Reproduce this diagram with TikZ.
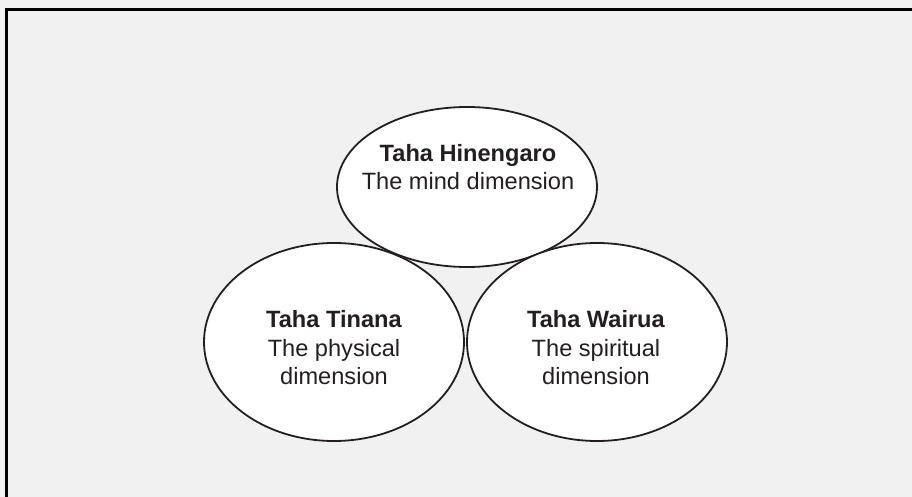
\documentclass[tikz,border=0pt]{standalone}
\usepackage{fontspec}
\setmainfont{Liberation Sans}
\usetikzlibrary{shapes.geometric}
\definecolor{bggray}{RGB}{241,241,241}
\definecolor{inkgray}{RGB}{35,31,32}
\begin{document}
\begin{tikzpicture}[x=0.5pt,y=-0.5pt,line cap=butt,line join=miter,
	dimension/.style={ellipse, draw=inkgray, fill=white, line width=0.9pt, inner sep=0pt, minimum width=130pt},
	dimtext/.style={align=center, text=inkgray, font=\fontsize{11.8}{14.4}\selectfont, anchor=base}]
	
	% page, with the frame on the top and left only
	\fill[bggray] (0,0) rectangle (912,497);
	\useasboundingbox (0,0) rectangle (912,497);
	\draw[line width=1.5pt] (6.5,497) |- (912,9.5);
	
	% the three taha
	\node[dimension, minimum height=80pt] (hinengaro) at (467,187) {};
	\node[dimension, minimum height=99pt] (tinana) at (334,342) {};
	\node[dimension, minimum height=99pt] (wairua) at (597,342) {};
	
	% base = last line
	\node[dimtext] (hinengaroText) at (468,190) {\textbf{Taha Hinengaro}\\The mind dimension};
	\node[dimtext] (tinanaText) at (334,385) {\textbf{Taha Tinana}\\The physical\\dimension};
	\node[dimtext] (wairuaText) at (596,385) {\textbf{Taha Wairua}\\The spiritual\\dimension};
	
\end{tikzpicture}
\end{document}
